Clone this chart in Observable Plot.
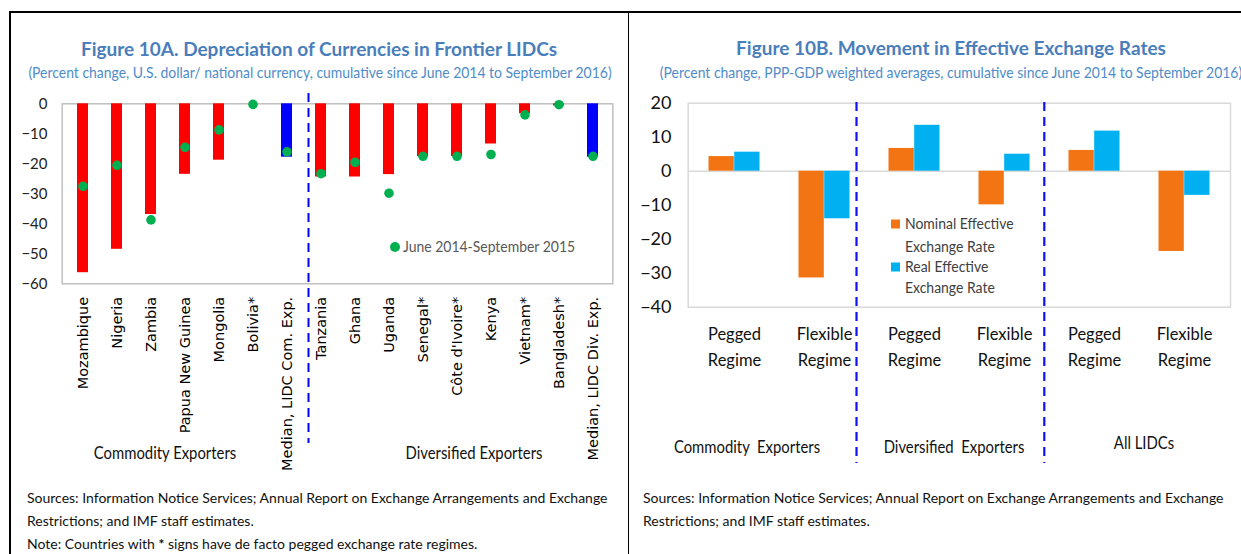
<!DOCTYPE html>
<html><head><meta charset="utf-8">
<script src="https://cdn.jsdelivr.net/npm/d3@7"></script>
<script src="https://cdn.jsdelivr.net/npm/@observablehq/plot@0.6"></script>
<style>
body{margin:0;width:1241px;height:554px;overflow:hidden;background:#fff;position:relative;font-family:"Lato",sans-serif;color:#000;}
.abs{position:absolute;white-space:nowrap;line-height:1;}
.c{transform:translate(-50%,-50%);}
.l{transform:translate(0,-50%);transform-origin:0 50%;}
.title{color:#4A7EBB;font-weight:bold;font-size:19px;}
.sub{color:#4F8CC9;font-size:15px;transform:translate(-50%,-50%) scaleX(0.93);}
.grp{font-size:16.5px;color:#111;transform:translate(-50%,-50%) scaleX(0.9);}
.note{font-size:14px;color:#111;}
.leg{font-size:15.5px;color:#404040;transform-origin:0 50%;transform:translate(0,-50%) scaleX(0.9);}
.line{position:absolute;background:#000;}
#chartA{position:absolute;left:10px;top:90px;}
#chartB{position:absolute;left:628px;top:90px;}
</style></head>
<body>
<div class="line" style="left:9px;top:11px;width:1232px;height:2px;"></div>
<div class="line" style="left:9px;top:11px;width:1.5px;height:543px;"></div>
<div class="line" style="left:628px;top:11px;width:1px;height:543px;"></div>

<div class="abs c title" style="left:319px;top:48px;">Figure 10A. Depreciation of Currencies in Frontier LIDCs</div>
<div class="abs sub" style="left:320px;top:72px;">(Percent change, U.S. dollar/ national currency, cumulative since June 2014 to September 2016)</div>
<div class="abs c title" style="left:951px;top:47px;">Figure 10B. Movement in Effective Exchange Rates</div>
<div class="abs sub" style="left:951px;top:72px;">(Percent change, PPP-GDP weighted averages, cumulative since June 2014 to September 2016)</div>

<div id="chartA"></div>
<div id="chartB"></div>

<div class="abs grp" style="left:164.5px;top:453px;">Commodity Exporters</div>
<div class="abs grp" style="left:473.7px;top:453px;">Diversified Exporters</div>

<div class="abs l" style="left:390px;top:246.7px;width:10px;height:10px;border-radius:50%;background:#00B050;"></div>
<div class="abs leg" style="left:403px;top:246.7px;color:#595959;">June 2014-September 2015</div>

<div class="abs l" style="left:891px;top:224px;width:9px;height:9px;background:#F37413;"></div>
<div class="abs leg" style="left:905px;top:224px;">Nominal Effective</div>
<div class="abs leg" style="left:905px;top:246.7px;">Exchange Rate</div>
<div class="abs l" style="left:891px;top:266.7px;width:9px;height:9px;background:#00B0F0;"></div>
<div class="abs leg" style="left:905px;top:266.7px;">Real Effective</div>
<div class="abs leg" style="left:905px;top:287.7px;">Exchange Rate</div>

<div class="abs grp" style="left:747px;top:447px;">Commodity&nbsp; Exporters</div>
<div class="abs grp" style="left:953.5px;top:447px;">Diversified&nbsp; Exporters</div>
<div class="abs grp" style="left:1143.6px;top:443px;">All LIDCs</div>

<div class="abs l note" style="left:27px;top:498px;">Sources: Information Notice Services; Annual Report on Exchange Arrangements and Exchange</div>
<div class="abs l note" style="left:27px;top:521px;">Restrictions; and IMF staff estimates.</div>
<div class="abs l note" style="left:27px;top:544px;">Note: Countries with <b>*</b> signs have de facto pegged exchange rate regimes.</div>
<div class="abs l note" style="left:643px;top:498px;">Sources: Information Notice Services; Annual Report on Exchange Arrangements and Exchange</div>
<div class="abs l note" style="left:643px;top:521px;">Restrictions; and IMF staff estimates.</div>

<script>
// ---------- Figure 10A data ----------
const countries = ["Mozambique","Nigeria","Zambia","Papua New Guinea","Mongolia","Bolivia*","Median, LIDC Com. Exp.","Tanzania","Ghana","Uganda","Senegal*","Côte d'Ivoire*","Kenya","Vietnam*","Bangladesh*","Median, LIDC Div. Exp."];
const change2016 = [-56.3,-48.5,-36.9,-23.5,-18.8,0,-17.8,-24.4,-24.4,-23.6,-17.6,-17.6,-13.4,-3.3,-0.7,-17.8];
const change2015 = [-27.5,-20.5,-38.7,-14.5,-8.7,-0.2,-16.0,-23.3,-19.5,-29.8,-17.5,-17.5,-16.9,-3.7,-0.3,-17.5];
const yTicksA = [0,-10,-20,-30,-40,-50,-60];

// ---------- Figure 10B data ----------
const regimeKeys = ["CE Pegged","CE Flexible","DE Pegged","DE Flexible","All Pegged","All Flexible"];
const regimeLabels = ["Pegged\nRegime","Flexible\nRegime","Pegged\nRegime","Flexible\nRegime","Pegged\nRegime","Flexible\nRegime"];
const nominalEER = [4.3,-31.4,6.7,-9.9,6.1,-23.6];
const realEER = [5.6,-14.0,13.5,5.0,11.8,-7.1];
const yTicksB = [20,10,0,-10,-20,-30,-40];

const dataA = countries.map((c,i)=>({country:c, v2016:change2016[i], v2015:change2015[i]}));
const dataB = regimeKeys.map((k,i)=>({key:k, label:regimeLabels[i], nominal:nominalEER[i], real:realEER[i]}));

const sans = '"Lato",sans-serif';

const chartA = Plot.plot({
  width:618, height:380,
  marginLeft:51.7, marginRight:15.7, marginTop:13.3, marginBottom:186.7,
  style:{fontFamily:sans, color:"#000", background:"transparent", overflow:"visible"},
  x:{type:"band", domain:countries, paddingInner:0.69, paddingOuter:0.345, axis:null},
  y:{domain:[-60,0], axis:null},
  marks:[
    Plot.frame({stroke:"#bfbfbf", strokeWidth:1.5}),
    Plot.barY(dataA, {x:"country", y:"v2016", fill:d=>d.country.startsWith("Median")?"#0000FF":"#FF0000"}),
    Plot.dot(dataA, {x:"country", y:"v2015", r:4.8, fill:"#00B050"}),
    Plot.ruleX(["Tanzania"], {x:d=>d, dx:-12.5, y1:3.4, y2:-113.2, stroke:"#0000FF", strokeWidth:2, strokeDasharray:"9,6"}),
    Plot.axisY({ticks:yTicksA, tickSize:0, tickPadding:14.7, fontSize:15, fill:"#222", label:null}),
    Plot.axisX({tickRotate:-90, tickSize:0, tickPadding:13, fontSize:14.5, fontFamily:"DejaVu Sans", fill:"#000", label:null})
  ]
});
document.getElementById("chartA").append(chartA);

const wB = 613, mlB = 59.7, mrB = 11;
const bandB = (wB - mlB - mrB)/regimeKeys.length;
const barW = 25.7;
const half = bandB/2;

const chartB = Plot.plot({
  width:wB, height:380,
  marginLeft:mlB, marginRight:mrB, marginTop:12.7, marginBottom:163.3,
  style:{fontFamily:sans, color:"#000", background:"transparent", overflow:"visible"},
  x:{type:"band", domain:regimeKeys, padding:0, axis:null},
  y:{domain:[-40,20], axis:null},
  marks:[
    Plot.frame({stroke:"#d9d9d9", strokeWidth:1.5}),
    Plot.ruleY([0], {stroke:"#d9d9d9", strokeWidth:1.5}),
    Plot.barY(dataB, {x:"key", y:"nominal", fill:"#F37413", insetLeft:half-barW, insetRight:half}),
    Plot.barY(dataB, {x:"key", y:"real", fill:"#00B0F0", insetLeft:half, insetRight:half-barW}),
    Plot.ruleX(["CE Flexible"], {x:d=>d, dx:32, y1:20.2, y2:-86, stroke:"#1010FF", strokeWidth:2.2, strokeDasharray:"9,6"}),
    Plot.ruleX(["DE Flexible"], {x:d=>d, dx:39.8, y1:20.2, y2:-86, stroke:"#1010FF", strokeWidth:2.2, strokeDasharray:"9,6"}),
    Plot.axisY({ticks:yTicksB, tickSize:0, tickPadding:16.7, fontSize:18, fill:"#111", label:null}),
    Plot.axisX({tickSize:0, tickPadding:15, tickFormat:k=>regimeLabels[regimeKeys.indexOf(k)], fontSize:16.5, lineHeight:1.54, fill:"#111", label:null})
  ]
});
document.getElementById("chartB").append(chartB);
</script>
</body></html>
